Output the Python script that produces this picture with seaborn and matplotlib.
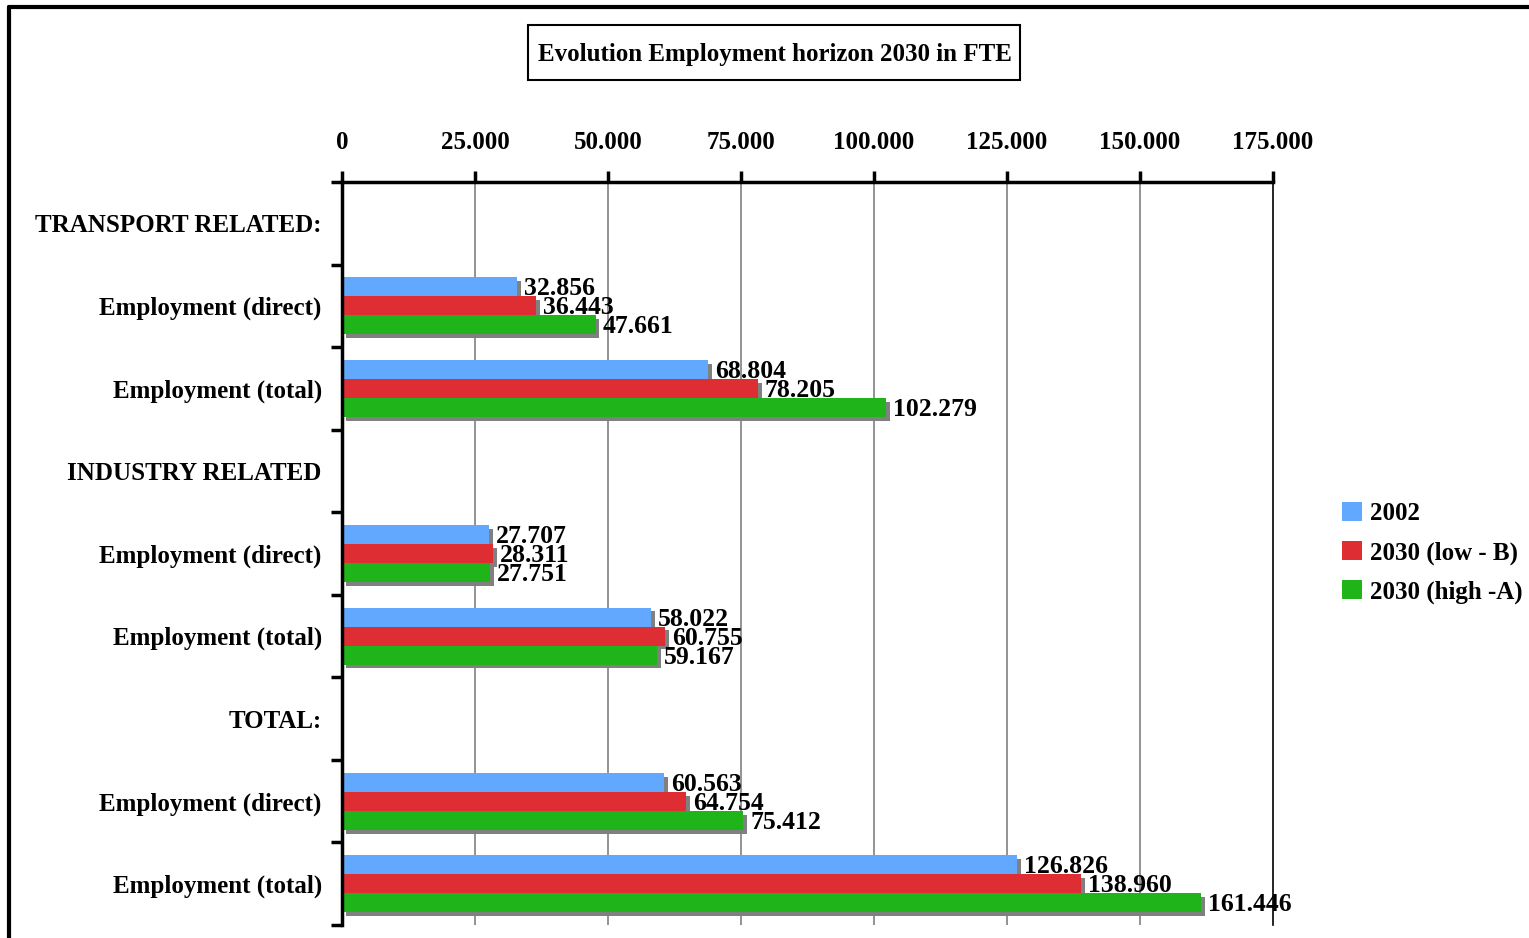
import matplotlib
matplotlib.use("Agg")
import matplotlib.pyplot as plt
from matplotlib import patheffects
from matplotlib.lines import Line2D
from matplotlib.patches import Rectangle
from matplotlib.ticker import FixedLocator, FuncFormatter
import seaborn as sns
import pandas as pd

# ---- data -------------------------------------------------------------
sections = ["TRANSPORT RELATED:", "INDUSTRY RELATED", "TOTAL:"]
measures = ["Employment (direct)", "Employment (total)"]
series = ["2002", "2030 (low - B)", "2030 (high -A)"]

v2002 = [32856, 68804, 27707, 58022, 60563, 126826]
v2030_low = [36443, 78205, 28311, 60755, 64754, 138960]
v2030_high = [47661, 102279, 27751, 59167, 75412, 161446]

x_ticks = [0, 25000, 50000, 75000, 100000, 125000, 150000, 175000]
title = "Evolution Employment horizon 2030 in FTE"

colors = ["#63A8FF", "#DE2E33", "#1FB51A"]


def fmt(v):
    return f"{int(round(v)):,}".replace(",", ".")


# ---- tidy table: one header row per section, then its two measures ----
order, tick_labels = [], []
rows = []
values = [v2002, v2030_low, v2030_high]
k = 0
for sec in sections:
    order.append(sec)
    tick_labels.append(sec)
    for m in measures:
        key = f"{sec}|{m}"
        order.append(key)
        tick_labels.append(m)
        for s, vals in zip(series, values):
            rows.append({"row": key, "series": s, "value": vals[k]})
        k += 1
df = pd.DataFrame(rows)

# ---- figure ------------------------------------------------------------
sns.set_style("white")
plt.rcParams["font.family"] = ["Liberation Serif", "DejaVu Serif"]
plt.rcParams["font.weight"] = "bold"
plt.rcParams["text.color"] = "black"
plt.rcParams["xtick.color"] = "black"
plt.rcParams["ytick.color"] = "black"
plt.rcParams["xtick.labelcolor"] = "black"
plt.rcParams["ytick.labelcolor"] = "black"
FS = 18
VFS = 18.5

fig = plt.figure(figsize=(15.29, 9.38), dpi=100)
ax = fig.add_axes([342 / 1529, 1 - 925 / 938, (1273 - 342) / 1529, (925 - 182) / 938])

sns.barplot(data=df, y="row", x="value", hue="series", order=order,
            hue_order=series, palette=colors, orient="h", width=0.69,
            saturation=1, linewidth=0, errorbar=None, ax=ax, legend=True)

shadow = [patheffects.SimplePatchShadow(offset=(2.8, -2.8), shadow_rgbFace="#808080", alpha=1.0),
          patheffects.Normal()]
for container in ax.containers:
    for bar, v in zip(container, container.datavalues):
        bar.set_path_effects(shadow)
        yc = bar.get_y() + bar.get_height() / 2
        ax.annotate(fmt(v), xy=(v, yc), xytext=(5, -1.5), textcoords="offset points",
                    ha="left", va="center", fontsize=VFS, fontweight="bold", color="black")

# x axis on top
ax.set_xlim(0, 175000)
ax.set_ylim(len(order) - 0.5, -0.5)
ax.xaxis.tick_top()
ax.xaxis.set_major_locator(FixedLocator(x_ticks))
ax.xaxis.set_major_formatter(FuncFormatter(lambda v, p: fmt(v)))
ax.tick_params(axis="x", which="major", direction="out", length=8, width=2.5,
               pad=12, labelsize=FS, top=True, bottom=False, colors="black")
ax.set_xlabel("")
ax.set_ylabel("")

# y axis: labels at row centres, tick marks at row boundaries
ax.set_yticks(range(len(order)))
ax.set_yticklabels(tick_labels, fontsize=FS, fontweight="bold", color="black")
ax.yaxis.set_minor_locator(FixedLocator([i - 0.5 for i in range(len(order) + 1)]))
ax.tick_params(axis="y", which="major", length=0, pad=14.5)
ax.tick_params(axis="y", which="minor", direction="out", length=8, width=2.5, left=True,
               color="black")

# vertical gridlines
for x in x_ticks[1:-1]:
    ax.axvline(x, color="#808080", linewidth=1.2, zorder=0)

ax.spines["bottom"].set_visible(False)
ax.spines["top"].set_linewidth(2.5)
ax.spines["left"].set_linewidth(2.5)
ax.spines["right"].set_linewidth(1.2)
for s in ["top", "left", "right"]:
    ax.spines[s].set_color("black")
ax.grid(False)

for lbl in ax.get_xticklabels() + ax.get_yticklabels():
    lbl.set_fontweight("bold")
    lbl.set_color("black")

# legend
handles, lbls = ax.get_legend_handles_labels()
leg = ax.legend(handles, lbls, loc="center left", bbox_to_anchor=(1319 / 1529, 1 - 553 / 938),
                bbox_transform=fig.transFigure, frameon=False,
                handlelength=0.8, handleheight=0.8, handletextpad=0.35, labelspacing=0.62,
                prop={"weight": "bold", "size": FS})
for t in leg.get_texts():
    t.set_color("black")

# title box
fig.patches.append(Rectangle((528 / 1529, 1 - 80 / 938), 492 / 1529, 55 / 938,
                             transform=fig.transFigure, fill=False, edgecolor="black",
                             linewidth=1.5))
fig.text(775 / 1529, 1 - 55 / 938, title, ha="center", va="center", fontsize=FS,
         fontweight="bold", color="black")

# outer frame
fig.add_artist(Line2D([9 / 1529, 1.0], [1 - 7 / 938, 1 - 7 / 938], transform=fig.transFigure,
                      color="black", linewidth=3))
fig.add_artist(Line2D([9 / 1529, 9 / 1529], [1 - 7 / 938, 0], transform=fig.transFigure,
                      color="black", linewidth=3))

fig.savefig("out.png", dpi=100)
